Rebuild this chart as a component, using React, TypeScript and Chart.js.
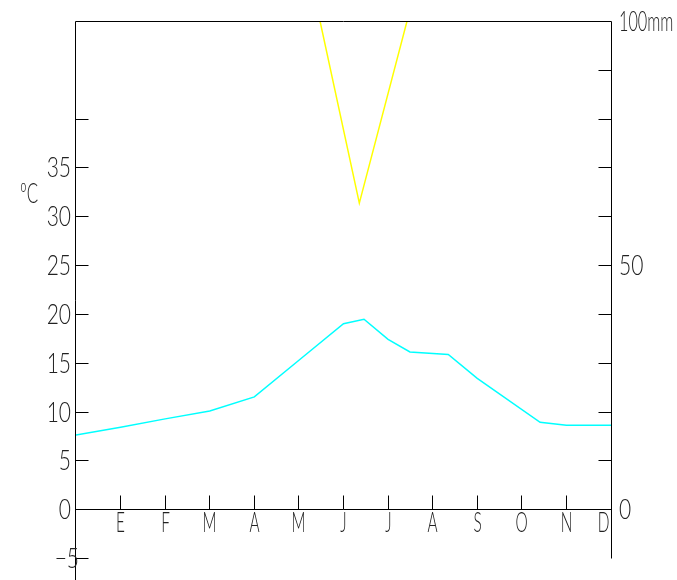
import React, { useEffect, useRef } from "react";
import { Chart, registerables } from "chart.js";

Chart.register(...registerables);

// Months (Spanish initials)
const monthLabels = ["E", "F", "M", "A", "M", "J", "J", "A", "S", "O", "N", "D"];

// Temperature curve (x in months from start of year, °C)
const tempX = [0, 1, 2, 3, 4, 5, 6, 6.46, 7, 7.49, 8.35, 9, 10.41, 11, 12];
const tempC = [7.6, 8.4, 9.25, 10.05, 11.5, 15.25, 19.0, 19.45, 17.4, 16.1, 15.85, 13.4, 8.9, 8.6, 8.6];

// Precipitation curve (x in months, mm) – values above 100 mm are outside the frame
const precipX = [0, 1, 2, 3, 4, 5, 6.355, 8, 9, 10, 11, 12];
const precipMm = [150, 145, 140, 135, 128, 120, 62.7, 120, 130, 140, 150, 155];

// Axis ticks and labels
const tempTicks = [-5, 5, 10, 15, 20, 25, 30, 35, 40];
const tempTickLabels = [-5, 0, 5, 10, 15, 20, 25, 30, 35];
const mmTicks = [10, 20, 30, 40, 50, 60, 70, 80, 90];
const mmTickLabels = ["0", "50", "100mm"];
const mmTickLabelValues = [0, 50, 100];

const FONT = "300 28px Lato, 'Liberation Sans Narrow', sans-serif";
const TEXT_COLOR = "#222";

function drawText(ctx: CanvasRenderingContext2D, text: string, x: number, yCenter: number, align: CanvasTextAlign, sx: number) {
  ctx.save();
  ctx.translate(x, yCenter + 10);
  ctx.scale(sx, 1);
  ctx.font = FONT;
  ctx.fillStyle = TEXT_COLOR;
  ctx.textAlign = align;
  ctx.textBaseline = "alphabetic";
  ctx.fillText(text, 0, 0);
  ctx.restore();
}

const climateAxes = {
  id: "climateAxes",
  afterDatasetsDraw(chart: any) {
    const { ctx, scales } = chart;
    const xs = scales.x;
    const yT = scales.yT;
    const yP = scales.yP;
    const L = Math.floor(xs.getPixelForValue(0)) - 0.5;
    const R = Math.floor(xs.getPixelForValue(12)) + 0.5;
    const Y0 = Math.round(yT.getPixelForValue(0)) + 0.5;
    const TOP = Math.round(yP.getPixelForValue(100)) + 0.5;
    const BOTP = Math.round(yP.getPixelForValue(-10)) + 0.5;

    ctx.save();
    ctx.strokeStyle = "#000";
    ctx.lineWidth = 1;
    ctx.beginPath();
    ctx.moveTo(L, TOP);
    ctx.lineTo(L, chart.height);
    ctx.moveTo(R, TOP);
    ctx.lineTo(R, BOTP);
    ctx.moveTo(L, TOP);
    ctx.lineTo(R, TOP);
    ctx.moveTo(L, Y0);
    ctx.lineTo(R, Y0);
    tempTicks.forEach((v) => {
      const y = Math.round(yT.getPixelForValue(v)) + 0.5;
      ctx.moveTo(L, y);
      ctx.lineTo(L + 13, y);
    });
    mmTicks.forEach((v) => {
      const y = Math.round(yP.getPixelForValue(v)) + 0.5;
      ctx.moveTo(R - 13, y);
      ctx.lineTo(R, y);
    });
    for (let k = 1; k <= 11; k++) {
      const x = Math.floor(xs.getPixelForValue(k)) + 0.5;
      ctx.moveTo(x, Y0);
      ctx.lineTo(x, Y0 - 14);
    }
    ctx.stroke();
    ctx.restore();

    // Left labels
    tempTickLabels.forEach((v) => {
      const y = yT.getPixelForValue(v);
      const txt = v < 0 ? "\u2212" + String(-v) : String(v);
      drawText(ctx, txt, v < 0 ? 79 : 71, y, "right", 0.75);
    });
    drawText(ctx, "ºC", 20, 192.5, "left", 0.6);

    // Right labels
    mmTickLabels.forEach((t, i) => {
      const y = yP.getPixelForValue(mmTickLabelValues[i]);
      drawText(ctx, t, 619, y, "left", i === 2 ? 0.58 : 0.75);
    });

    // Month labels
    monthLabels.forEach((m, i) => {
      let x = Math.floor(xs.getPixelForValue(i + 1)) + 0.5;
      x = Math.min(x, R - 8);
      drawText(ctx, m, x, Y0 + 12.5, "center", 0.55);
    });
  },
};

export default function App() {
  const canvasRef = useRef<HTMLCanvasElement | null>(null);

  useEffect(() => {
    const canvas = canvasRef.current;
    if (!canvas) return;
    const chart = new Chart(canvas, {
      type: "line",
      data: {
        datasets: [
          {
            label: "Precipitación",
            data: precipX.map((x, i) => ({ x, y: precipMm[i] })),
            yAxisID: "yP",
            borderColor: "#ffff00",
            borderWidth: 1.5,
            pointRadius: 0,
            tension: 0,
            fill: false,
          },
          {
            label: "Temperatura",
            data: tempX.map((x, i) => ({ x, y: tempC[i] })),
            yAxisID: "yT",
            borderColor: "#00ffff",
            borderWidth: 1.5,
            pointRadius: 0,
            tension: 0,
            fill: false,
          },
        ],
      },
      options: {
        animation: false,
        responsive: false,
        devicePixelRatio: 1,
        layout: { padding: { left: 76, right: 66, top: 21, bottom: 22 } },
        plugins: { legend: { display: false }, tooltip: { enabled: false } },
        scales: {
          x: { type: "linear", min: 0, max: 12, display: false },
          yT: { type: "linear", min: -5, max: 50, display: false, position: "left" },
          yP: { type: "linear", min: -10, max: 100, display: false, position: "right" },
        },
      },
      plugins: [climateAxes],
    });
    return () => chart.destroy();
  }, []);

  return (
    <canvas
      ref={canvasRef}
      width={677}
      height={580}
      style={{ position: "absolute", left: 0, top: 0, width: 677, height: 580, background: "#fff" }}
    />
  );
}
